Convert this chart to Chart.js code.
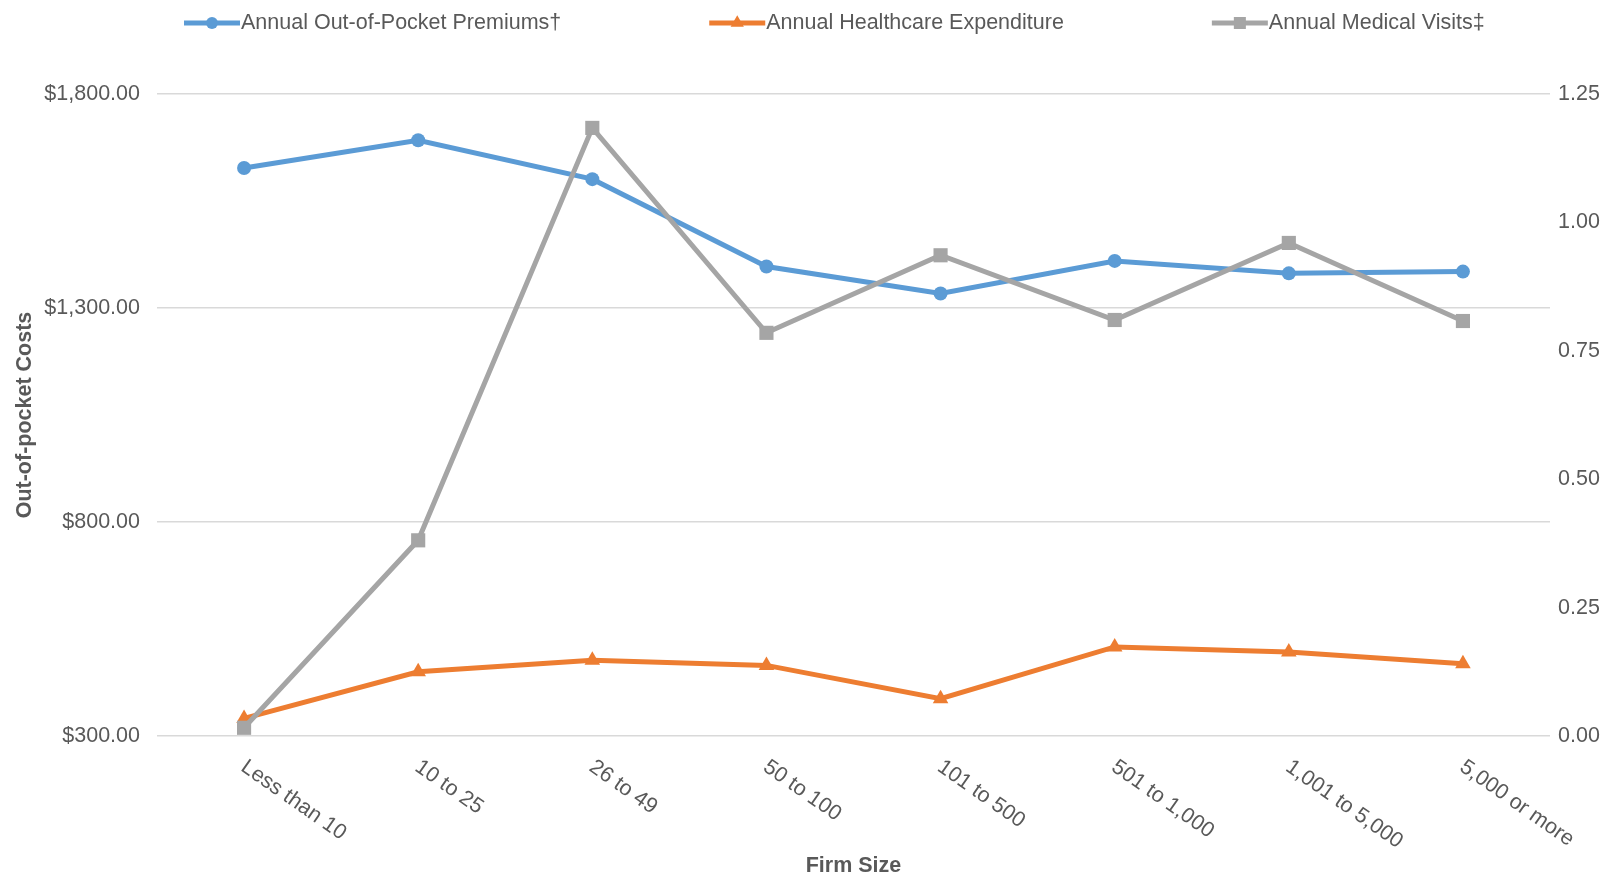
<!DOCTYPE html>
<html>
<head>
<meta charset="utf-8">
<title>Out-of-pocket costs by firm size</title>
<script src="https://cdn.jsdelivr.net/npm/chart.js@4/dist/chart.umd.min.js"></script>
<style>
  html, body { margin: 0; padding: 0; background: #fff; }
  #wrap { width: 1623px; height: 879px; position: relative; }
</style>
</head>
<body>
<div id="wrap"><canvas id="firmChart"></canvas></div>
<script>
var firmSizes = ['Less than 10', '10 to 25', '26 to 49', '50 to 100', '101 to 500', '501 to 1,000', '1,001 to 5,000', '5,000 or more'];
var premiums = [1627, 1692, 1601, 1397, 1334, 1410, 1381, 1385];
var expenditure = [341, 450, 477, 465, 387, 508, 496, 469];
var visits = [0.016, 0.381, 1.184, 0.785, 0.936, 0.810, 0.960, 0.808];
var costTicks = [300, 800, 1300, 1800];
var visitTicks = [0, 0.25, 0.5, 0.75, 1, 1.25];

var FONT = '"Liberation Sans", Arial, sans-serif';
var SIZE = 21.5;
var TEXT = '#595959';

// line + marker legend across the top
var topLegend = {
    id: 'topLegend',
    afterDraw: function(chart) {
        var ctx = chart.ctx;
        var x = 184, y = 23;
        ctx.save();
        ctx.font = SIZE + 'px ' + FONT;
        ctx.textBaseline = 'middle';
        ctx.textAlign = 'left';
        chart.data.datasets.forEach(function(ds) {
            ctx.strokeStyle = ds.borderColor;
            ctx.lineWidth = 5;
            ctx.beginPath();
            ctx.moveTo(x, y);
            ctx.lineTo(x + 56, y);
            ctx.stroke();
            ctx.fillStyle = ds.borderColor;
            Chart.helpers.drawPoint(ctx, { pointStyle: ds.pointStyle, radius: ds.pointRadius * 0.85, borderWidth: 0, rotation: 0 }, x + 28, y);
            ctx.fillStyle = TEXT;
            ctx.fillText(ds.label, x + 57, y);
            x += 57 + ctx.measureText(ds.label).width + 148;
        });
        ctx.restore();
    }
};

// category labels slanted downward to the right
var slantLabels = {
    id: 'slantLabels',
    afterDraw: function(chart) {
        var ctx = chart.ctx;
        var xs = chart.scales.x;
        ctx.save();
        ctx.font = SIZE + 'px ' + FONT;
        ctx.fillStyle = TEXT;
        ctx.textAlign = 'left';
        ctx.textBaseline = 'middle';
        firmSizes.forEach(function(label, i) {
            var px = xs.getPixelForTick(i);
            ctx.save();
            ctx.translate(px - 1, xs.top + 29);
            ctx.rotate(35 * Math.PI / 180);
            ctx.fillText(label, 0, 0);
            ctx.restore();
        });
        ctx.restore();
    }
};

var ctx = document.getElementById('firmChart').getContext('2d');
var firmChart = new Chart(ctx, {
    type: 'line',
    data: {
        labels: firmSizes,
        datasets: [{
            label: 'Annual Out-of-Pocket Premiums\u2020',
            data: premiums,
            yAxisID: 'y',
            borderColor: '#5b9bd5',
            backgroundColor: '#5b9bd5',
            pointStyle: 'circle',
            pointRadius: 7,
            order: 3
        }, {
            label: 'Annual Healthcare Expenditure',
            data: expenditure,
            yAxisID: 'y',
            borderColor: '#ed7d31',
            backgroundColor: '#ed7d31',
            pointStyle: 'triangle',
            pointRadius: 9,
            order: 2
        }, {
            label: 'Annual Medical Visits\u2021',
            data: visits,
            yAxisID: 'y1',
            borderColor: '#a5a5a5',
            backgroundColor: '#a5a5a5',
            pointStyle: 'rect',
            pointRadius: 10,
            order: 1
        }]
    },
    options: {
        responsive: true,
        maintainAspectRatio: false,
        animation: false,
        layout: { padding: { top: 94, left: 0, right: 0, bottom: 0 } },
        elements: {
            line: { borderWidth: 5, tension: 0, fill: false },
            point: { borderWidth: 0, hoverRadius: 8 }
        },
        plugins: {
            legend: { display: false },
            tooltip: { enabled: false }
        },
        scales: {
            x: {
                offset: true,
                grid: { display: false },
                border: { display: false },
                ticks: { display: false },
                title: {
                    display: true,
                    text: 'Firm Size',
                    color: TEXT,
                    font: { family: FONT, size: SIZE, weight: 'bold' },
                    padding: { top: 0, bottom: 0 }
                },
                afterFit: function(scale) { scale.height = 143; }
            },
            y: {
                position: 'left',
                min: 300,
                max: 1800,
                afterBuildTicks: function(scale) {
                    scale.ticks = costTicks.map(function(v) { return { value: v }; });
                },
                grid: { color: '#d9d9d9', lineWidth: 1.5, drawTicks: false },
                border: { display: false },
                ticks: {
                    color: TEXT,
                    padding: 17,
                    font: { family: FONT, size: SIZE },
                    callback: function(v) {
                        return '$' + v.toLocaleString('en-US', { minimumFractionDigits: 2, maximumFractionDigits: 2 });
                    }
                },
                title: {
                    display: true,
                    text: 'Out-of-pocket Costs',
                    color: TEXT,
                    font: { family: FONT, size: SIZE, weight: 'bold' },
                    padding: { top: 12, bottom: 0 }
                },
                afterFit: function(scale) { scale.width = 157; }
            },
            y1: {
                position: 'right',
                min: 0,
                max: 1.25,
                afterBuildTicks: function(scale) {
                    scale.ticks = visitTicks.map(function(v) { return { value: v }; });
                },
                grid: { display: false, drawTicks: false },
                border: { display: false },
                ticks: {
                    color: TEXT,
                    padding: 8,
                    font: { family: FONT, size: SIZE },
                    callback: function(v) { return v.toFixed(2); }
                },
                afterFit: function(scale) { scale.width = 73; }
            }
        }
    },
    plugins: [topLegend, slantLabels]
});
</script>
</body>
</html>
